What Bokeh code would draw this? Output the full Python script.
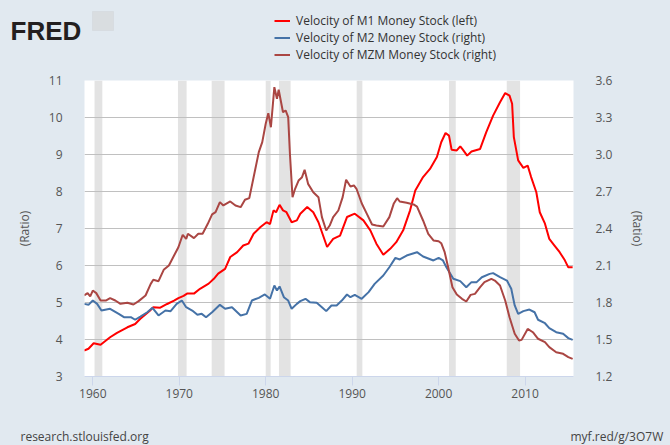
from bokeh.plotting import figure
from bokeh.layouts import column
from bokeh.models import (Range1d, LinearAxis, FixedTicker, PrintfTickFormatter,
                          BoxAnnotation, Label, Legend, LegendItem)
from bokeh.embed import file_html
from bokeh.resources import INLINE

# ---------------- data ----------------
m1_years = [1959.0, 1959.5, 1960.1, 1960.9, 1962.0, 1962.8, 1964.0, 1964.9, 1965.5, 1966.7,
            1967.0, 1967.8, 1968.6, 1969.4, 1969.9, 1970.5, 1970.9, 1971.7, 1972.4, 1973.4,
            1974.0, 1974.5, 1975.3, 1975.9, 1976.7, 1977.4, 1978.0, 1978.6, 1979.4, 1980.1,
            1980.5, 1980.9, 1981.2, 1981.6, 1982.0, 1982.4, 1983.0, 1983.6, 1984.0, 1984.8,
            1985.5, 1986.1, 1987.1, 1987.8, 1988.6, 1989.4, 1990.3, 1991.3, 1992.1, 1992.8,
            1993.6, 1994.4, 1995.1, 1995.9, 1996.7, 1997.3, 1998.2, 1999.0, 1999.8, 2000.3,
            2000.8, 2001.2, 2001.5, 2002.1, 2002.5, 2002.8, 2003.3, 2003.8, 2004.8, 2005.5,
            2006.3, 2007.1, 2007.7, 2008.2, 2008.5, 2008.7, 2009.2, 2009.8, 2010.3, 2010.7,
            2011.3, 2011.7, 2012.3, 2012.8, 2013.4, 2014.0, 2014.6, 2015.0, 2015.5]
m1_vals = [3.70, 3.75, 3.90, 3.86, 4.06, 4.18, 4.33, 4.42, 4.56, 4.80,
           4.87, 4.86, 4.96, 5.05, 5.12, 5.18, 5.24, 5.24, 5.37, 5.51,
           5.64, 5.78, 5.91, 6.23, 6.36, 6.54, 6.59, 6.86, 7.04, 7.17,
           7.12, 7.49, 7.44, 7.64, 7.49, 7.44, 7.17, 7.22, 7.40, 7.58,
           7.44, 7.17, 6.50, 6.72, 6.81, 7.31, 7.40, 7.22, 6.95, 6.59,
           6.29, 6.45, 6.63, 6.95, 7.49, 8.03, 8.39, 8.61, 8.93, 9.33,
           9.58, 9.51, 9.13, 9.11, 9.22, 9.13, 8.97, 9.08, 9.15, 9.60,
           10.05, 10.41, 10.66, 10.59, 10.37, 9.47, 8.84, 8.64, 8.70, 8.39,
           7.98, 7.44, 7.13, 6.72, 6.54, 6.36, 6.14, 5.95, 5.95]

m2_years = [1959.0, 1959.5, 1960.0, 1960.5, 1961.0, 1962.0, 1963.0, 1963.6, 1964.4, 1964.9,
            1965.5, 1966.3, 1966.9, 1967.6, 1968.4, 1969.0, 1969.7, 1970.3, 1970.8, 1971.5,
            1972.1, 1972.6, 1973.1, 1973.8, 1974.7, 1975.3, 1976.1, 1977.1, 1977.8, 1978.4,
            1979.2, 1979.9, 1980.5, 1981.0, 1981.3, 1981.6, 1982.1, 1982.6, 1983.0, 1983.6,
            1984.0, 1984.6, 1985.1, 1985.9, 1986.5, 1987.0, 1987.6, 1988.2, 1988.8, 1989.4,
            1989.8, 1990.3, 1991.1, 1991.9, 1992.6, 1993.6, 1994.3, 1995.0, 1995.5, 1996.3,
            1997.5, 1998.2, 1999.4, 2000.0, 2000.5, 2000.9, 2001.7, 2002.5, 2003.2, 2003.8,
            2004.4, 2005.0, 2005.9, 2006.3, 2007.1, 2007.9, 2008.4, 2008.8, 2009.2, 2009.8,
            2010.5, 2011.1, 2011.5, 2012.3, 2012.8, 2013.6, 2014.4, 2015.0, 2015.5]
m2_vals = [1.789, 1.781, 1.816, 1.789, 1.735, 1.749, 1.708, 1.681, 1.681, 1.660,
           1.686, 1.721, 1.757, 1.695, 1.735, 1.730, 1.789, 1.816, 1.762, 1.735,
           1.700, 1.708, 1.681, 1.721, 1.781, 1.749, 1.762, 1.695, 1.708, 1.816,
           1.838, 1.865, 1.830, 1.938, 1.897, 1.930, 1.843, 1.816, 1.749, 1.789,
           1.811, 1.830, 1.803, 1.798, 1.762, 1.730, 1.776, 1.776, 1.816, 1.865,
           1.843, 1.862, 1.830, 1.884, 1.951, 2.019, 2.086, 2.162, 2.149, 2.181,
           2.208, 2.173, 2.141, 2.162, 2.141, 2.086, 1.992, 1.973, 1.924, 1.965,
           1.965, 2.005, 2.032, 2.038, 2.005, 1.978, 1.911, 1.776, 1.708, 1.730,
           1.743, 1.721, 1.660, 1.632, 1.592, 1.559, 1.546, 1.511, 1.497]

mzm_years = [1959.0, 1959.4, 1959.7, 1960.0, 1960.4, 1960.9, 1961.5, 1962.0, 1962.6, 1963.2,
             1964.0, 1964.7, 1965.3, 1966.1, 1966.7, 1967.0, 1967.6, 1968.2, 1968.8, 1969.4,
             1969.9, 1970.4, 1970.8, 1971.0, 1971.7, 1972.2, 1972.7, 1973.3, 1973.8, 1974.2,
             1974.7, 1975.1, 1975.9, 1976.5, 1977.1, 1977.6, 1978.1, 1978.6, 1979.2, 1979.6,
             1980.0, 1980.3, 1980.6, 1981.0, 1981.3, 1981.5, 1982.0, 1982.3, 1982.6, 1982.8,
             1983.1, 1983.4, 1983.8, 1984.2, 1984.5, 1984.9, 1985.5, 1986.1, 1986.5, 1987.0,
             1987.4, 1987.8, 1988.4, 1988.9, 1989.3, 1989.8, 1990.2, 1990.5, 1991.1, 1991.7,
             1992.3, 1992.8, 1993.6, 1994.3, 1994.8, 1995.2, 1995.5, 1996.3, 1997.1, 1997.5,
             1998.2, 1998.8, 1999.4, 2000.0, 2000.3, 2000.7, 2001.1, 2001.6, 2002.1, 2002.7,
             2003.2, 2003.7, 2004.2, 2004.8, 2005.3, 2006.1, 2006.5, 2007.1, 2007.7, 2008.2,
             2008.8, 2009.3, 2009.6, 2010.3, 2010.9, 2011.5, 2012.3, 2012.8, 2013.6, 2014.4,
             2015.0, 2015.5]
mzm_vals = [1.857, 1.876, 1.849, 1.897, 1.876, 1.816, 1.816, 1.835, 1.816, 1.789,
            1.798, 1.784, 1.811, 1.857, 1.951, 1.984, 1.973, 2.065, 2.100, 2.181,
            2.248, 2.349, 2.316, 2.357, 2.322, 2.357, 2.357, 2.438, 2.514, 2.533,
            2.614, 2.587, 2.619, 2.587, 2.573, 2.633, 2.646, 2.816, 3.019, 3.100,
            3.249, 3.335, 3.221, 3.546, 3.452, 3.525, 3.343, 3.357, 3.303, 3.006,
            2.654, 2.722, 2.789, 2.816, 2.876, 2.762, 2.694, 2.654, 2.492, 2.384,
            2.424, 2.492, 2.546, 2.654, 2.795, 2.741, 2.749, 2.722, 2.605, 2.519,
            2.432, 2.424, 2.416, 2.492, 2.600, 2.646, 2.619, 2.608, 2.595, 2.578,
            2.465, 2.357, 2.303, 2.297, 2.281, 2.208, 2.086, 1.924, 1.865, 1.830,
            1.808, 1.862, 1.870, 1.924, 1.965, 1.992, 1.978, 1.938, 1.816, 1.681,
            1.546, 1.492, 1.497, 1.586, 1.559, 1.506, 1.478, 1.438, 1.397, 1.384,
            1.357, 1.343]

rec_start = [1960.2, 1969.85, 1973.75, 1980.0, 1981.53, 1990.52, 2001.2, 2007.88]
rec_end = [1961.1, 1970.85, 1975.24, 1980.57, 1982.88, 1991.18, 2001.98, 2009.42]

x_ticks = [1960, 1970, 1980, 1990, 2000, 2010]
left_ticks = [3, 4, 5, 6, 7, 8, 9, 10, 11]
right_ticks = [1.2, 1.5, 1.8, 2.1, 2.4, 2.7, 3.0, 3.3, 3.6]

legend_labels = ["Velocity of M1 Money Stock (left)",
                 "Velocity of M2 Money Stock (right)",
                 "Velocity of MZM Money Stock (right)"]
colors = ["#ff0000", "#4572a7", "#aa4643"]

BG = "#e1e9f0"
FONT = "Open Sans"
W = 670
HEAD_H, MAIN_H, FOOT_H = 70, 345, 30
NAN = float("nan")


def plain_fig(h):
    f = figure(width=W, height=h, output_backend="svg", toolbar_location=None, tools="",
               x_axis_type=None, y_axis_type=None,
               x_range=Range1d(0, W), y_range=Range1d(0, h),
               min_border=0, min_border_left=0, min_border_right=0,
               min_border_top=0, min_border_bottom=0, frame_align=False)
    f.border_fill_color = BG
    f.background_fill_color = BG
    f.outline_line_color = None
    f.grid.visible = False
    return f


# ---------------- header: logo + legend ----------------
head = plain_fig(HEAD_H)
head.add_layout(Label(x=10, y=HEAD_H - 30, text="FRED",
                      text_font="Liberation Sans", text_font_style="bold",
                      text_font_size="26px", text_color="#231f20",
                      text_baseline="alphabetic"))
head.add_layout(BoxAnnotation(left=92, right=113, top=HEAD_H - 11, bottom=HEAD_H - 30,
                              fill_color="#d9dde0", fill_alpha=1.0, line_color="#c9ced2"))
# legend-only renderers (NaN data: nothing is drawn in the header itself)
dummies = [head.line(x=[NAN], y=[NAN], line_color=c, line_width=2) for c in colors]
legend = Legend(items=[LegendItem(label=lab, renderers=[r])
                       for lab, r in zip(legend_labels, dummies)],
                location=(274, HEAD_H - 63), orientation="vertical",
                border_line_color=None, background_fill_alpha=0.0,
                padding=0, margin=0, spacing=0, glyph_width=16, glyph_height=17,
                label_height=17, label_standoff=6, label_text_font=FONT,
                label_text_font_size="12px", label_text_color="#333333")
head.add_layout(legend)

# ---------------- main chart ----------------
p = figure(width=W, height=MAIN_H, output_backend="svg", toolbar_location=None, tools="",
           x_range=Range1d(1959.04, 2015.6), y_range=Range1d(3, 11),
           min_border_left=84, min_border_right=97, min_border_top=10,
           min_border_bottom=39, frame_align=False)
p.border_fill_color = BG
p.background_fill_color = "white"
p.outline_line_color = None
p.extra_y_ranges = {"right": Range1d(1.2, 3.6)}

for s, e in zip(rec_start, rec_end):
    p.add_layout(BoxAnnotation(left=s, right=e, fill_color="#e3e3e3", fill_alpha=1.0,
                               line_color=None, level="image"))

xa = p.xaxis[0]
xa.ticker = FixedTicker(ticks=x_ticks)
xa.axis_line_color = "#ccd6eb"
xa.major_tick_line_color = "#ccd6eb"
xa.major_tick_out = 9
xa.major_tick_in = 0
xa.minor_tick_line_color = None
xa.major_label_standoff = 3
xa.major_label_text_font = FONT
xa.major_label_text_font_size = "12px"
xa.major_label_text_color = "#555555"

ya = p.yaxis[0]
ya.ticker = FixedTicker(ticks=left_ticks)
ya.axis_line_color = None
ya.major_tick_line_color = None
ya.minor_tick_line_color = None
ya.major_tick_out = 0
ya.major_tick_in = 0
ya.major_label_standoff = 22
ya.major_label_text_font = FONT
ya.major_label_text_font_size = "12px"
ya.major_label_text_color = "#555555"
ya.axis_label = "(Ratio)"
ya.axis_label_text_font = FONT
ya.axis_label_text_font_size = "12px"
ya.axis_label_text_font_style = "normal"
ya.axis_label_text_color = "#555555"
ya.axis_label_standoff = 13

ra = LinearAxis(y_range_name="right", ticker=FixedTicker(ticks=right_ticks),
                formatter=PrintfTickFormatter(format="%.1f"))
ra.axis_line_color = None
ra.major_tick_line_color = None
ra.minor_tick_line_color = None
ra.major_tick_out = 0
ra.major_tick_in = 0
ra.major_label_standoff = 22
ra.major_label_text_font = FONT
ra.major_label_text_font_size = "12px"
ra.major_label_text_color = "#555555"
ra.axis_label = "(Ratio)"
ra.axis_label_text_font = FONT
ra.axis_label_text_font_size = "12px"
ra.axis_label_text_font_style = "normal"
ra.axis_label_text_color = "#555555"
ra.axis_label_standoff = 14
p.add_layout(ra, "right")

p.xgrid.visible = False
p.ygrid.ticker = FixedTicker(ticks=left_ticks)
p.ygrid.grid_line_color = "#c0c0c0"
p.ygrid.grid_line_width = 1

p.line(m1_years, m1_vals, line_color=colors[0], line_width=2)
p.line(m2_years, m2_vals, line_color=colors[1], line_width=2, y_range_name="right")
p.line(mzm_years, mzm_vals, line_color=colors[2], line_width=2, y_range_name="right")

# ---------------- footer ----------------
foot = plain_fig(FOOT_H)
foot.add_layout(Label(x=20, y=9.5, text="research.stlouisfed.org", text_font=FONT,
                      text_font_size="12px", text_color="#444444", text_baseline="middle"))
foot.add_layout(Label(x=570, y=9.5, text="myf.red/g/3O7W", text_font=FONT,
                      text_font_size="12px", text_color="#444444", text_baseline="middle"))

layout = column(head, p, foot, spacing=0)
html = file_html(layout, INLINE)
html = html.replace("</head>", "<style>body{background-color:%s;}</style></head>" % BG, 1)
open("out.html", "w").write(html)
